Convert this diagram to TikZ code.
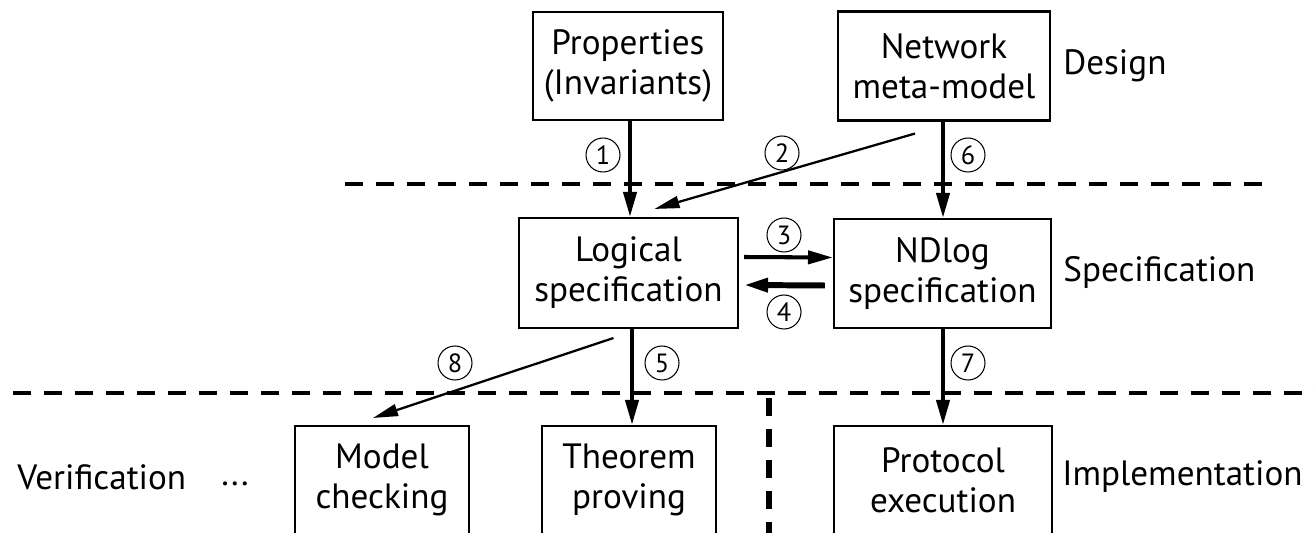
\documentclass[tikz,border=0pt]{standalone}
\usepackage{fontspec}
\setmainfont{PT Sans}
\usepackage{tikz}
\usetikzlibrary{positioning,arrows.meta}

\tikzset{
  box/.style={draw, line width=1.2pt, align=center, inner sep=0pt,
    font=\fontsize{20}{22.7}\selectfont},
  lvl/.style={anchor=west, inner sep=0pt, font=\fontsize{20}{22.7}\selectfont},
  num/.style={circle, draw, line width=0.6pt, minimum size=0.68cm, inner sep=0pt,
    font=\fontsize{15}{15}\selectfont},
  flow/.style={line width=2.3pt, -{Triangle[length=0.5cm,width=0.26cm]}},
  thinflow/.style={line width=1.3pt, -{Triangle[length=0.5cm,width=0.24cm]}},
  sep/.style={line width=2.2pt, dash pattern=on 0.36cm off 0.26cm},
}

\begin{document}
\begin{tikzpicture}[x=0.02cm,y=-0.02cm]
    \useasboundingbox (0,0) rectangle (1315,533);

    % boxes
    \node[box, minimum width=3.8cm, minimum height=2.16cm] at (628,66) (prop) {Properties\\(Invariants)};
    \node[box, minimum width=4.24cm, minimum height=2.18cm] at (944,66) (net) {Network\\meta-model};
    \node[box, minimum width=4.38cm, minimum height=2.2cm] at (628.5,273) (logic) {Logical\\specification};
    \node[box, minimum width=4.34cm, minimum height=2.18cm] at (942.5,273.5) (ndlog) {NDlog\\specification};
    \node[box, minimum width=3.48cm, minimum height=2.16cm] at (382,480) (model) {Model\\checking};
    \node[box, minimum width=3.48cm, minimum height=2.16cm] at (629,480) (theo) {Theorem\\proving};
    \node[box, minimum width=4.36cm, minimum height=2.16cm] at (943,480) (proto) {Protocol\\execution};

    % levels
    \node[lvl] at (1063,66) (design) {Design};
    \node[lvl] at (1063,273) (spec) {Specification};
    \node[lvl] at (1062,477) (impl) {Implementation};
    \node[lvl] at (17,477) (verif) {Verification};
    \node at (235,484) (dots) {\fontsize{20}{22.7}\selectfont ...};

    % separators
    \coordinate (s1a) at (345,184);
    \coordinate (s1b) at (1272,184);
    \coordinate (s2a) at (13,393);
    \coordinate (s2b) at (1315,393);
    \coordinate (s3a) at (769,398);
    \coordinate (s3b) at (769,540);
    \draw[sep] (s1a) -- (s1b);
    \draw[sep] (s2a) -- (s2b);
    \draw[sep, line width=3.4pt] (s3a) -- (s3b);

    % arrows
    \draw[flow] (prop.south -| 630,0) -- (logic.north -| 630,0);
    \draw[thinflow] ([shift={(-29,12)}]net.south) -- ([shift={(26,-8)}]logic.north);
    \draw[flow] (net.south -| 943,0) -- (ndlog.north -| 943,0);
    \draw[flow] ([yshift=0.32cm, xshift=0.1cm]logic.east) -- ([yshift=0.32cm]ndlog.west);
    \draw[flow, line width=3.4pt] ([yshift=-0.24cm, xshift=-0.16cm]ndlog.west) -- ([yshift=-0.24cm, xshift=0.08cm]logic.east);
    \draw[flow] (logic.south -| 632,0) -- (theo.north -| 632,0);
    \draw[thinflow] ([shift={(-15,9)}]logic.south) -- ([shift={(-9,-7)}]model.north);
    \draw[flow] (ndlog.south -| 943,0) -- (proto.north -| 943,0);

    % step numbers
    \node[num] at (603,155) (n1) {1};
    \node[num] at (782,153) (n2) {2};
    \node[num] at (784,235) (n3) {3};
    \node[num] at (784,312) (n4) {4};
    \node[num] at (662,363) (n5) {5};
    \node[num] at (968,155) (n6) {6};
    \node[num] at (968,363) (n7) {7};
    \node[num] at (455,363) (n8) {8};
\end{tikzpicture}
\end{document}
